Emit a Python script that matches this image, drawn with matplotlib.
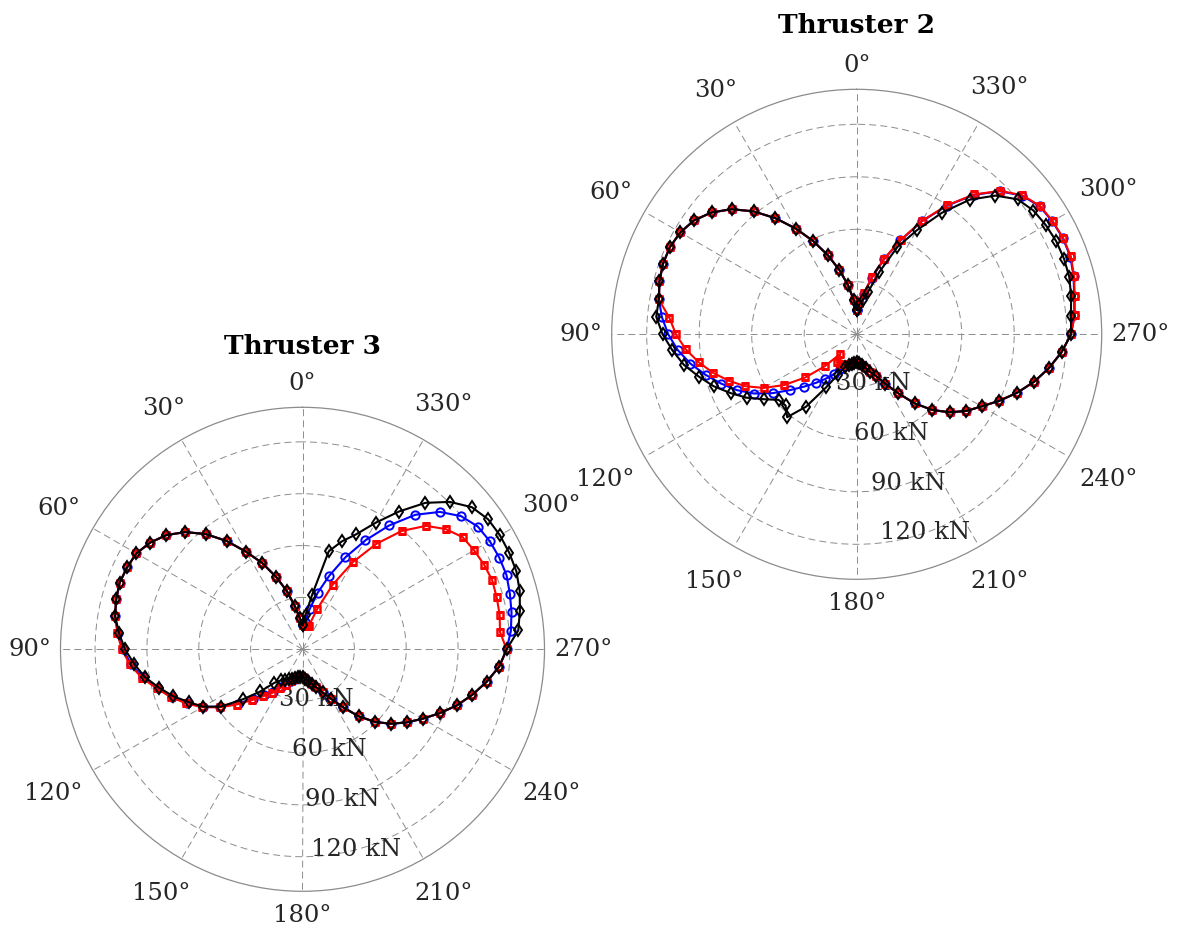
import numpy as np
import matplotlib
matplotlib.use("Agg")
import matplotlib.pyplot as plt

plt.rcParams["font.family"] = "DejaVu Serif"
plt.rcParams["lines.scale_dashes"] = False

# angles in degrees, 5 deg steps
angles = np.arange(0, 360, 5)
theta_ticks = np.arange(0, 360, 30)
rings = [30, 60, 90, 120]
r_max = 140

# ---- Thruster 3 (kN) ----
t3_common_0_80 = [14, 18.1, 25.3, 34.8, 44.5, 55, 65.1, 76.5, 87, 95.9, 102.8, 107.6,
                  111, 112, 112.6, 111.6, 110.1]
t3_black_85_175 = [106.5, 102.7, 97.7, 92.6, 85.9, 79.5, 72.4, 66.4, 57.8, 45, 34.5, 25.3,
                   22, 20.3, 19, 18, 17, 16.4, 16]
t3_blue_85_175 = [107.2, 104, 99.5, 93.8, 86.8, 80.4, 73.6, 66.6, 58, 49, 40.5, 34.5,
                  30, 25.3, 22, 19.3, 17.7, 16.7, 16.2]
t3_red_85_175 = [107.5, 104.6, 100.2, 94.5, 87.3, 81, 74.1, 67, 58.5, 49.7, 41.6, 35.5,
                 31, 26, 22.5, 19.5, 17.8, 16.8, 16.2]
t3_common_180_270 = [15.8, 17, 18.5, 20.5, 23.5, 27.5, 33, 41, 50.6, 59.5, 67, 73.7,
                     80.3, 87.5, 95, 101.7, 108.2, 114.3, 118.1]
t3_black_275_355 = [125.3, 127.7, 130.1, 131.7, 132, 131.9, 131.1, 127.9, 120.6, 110.6,
                    97.3, 84.5, 73.4, 66.4, 58.7, 32, 20]
t3_blue_275_355 = [121, 122.8, 124.2, 125.6, 125.6, 125.1, 123.8, 119.8, 112.4, 101.6,
                   87.5, 72.8, 58.7, 45.3, 33.8, 23.4, 16]
t3_red_275_355 = [114.7, 115.8, 116.3, 116.8, 115.9, 114.6, 113.1, 108.2, 101, 89.4,
                  74.5, 58.2, 41.1, 24.6, 13.9, 13.5, 13.8]

# ---- Thruster 2 (kN) ----
t2_common_0_80 = [14, 19.7, 28.6, 38, 48, 58.8, 69.8, 81, 91.7, 101.1, 108.3, 113.5,
                  116.4, 117.8, 117.8, 116.7, 114.8]
t2_black_85_175 = [115, 110.9, 105.7, 100.3, 93.4, 86.9, 79.5, 72.5, 64.7, 58.3, 57.5, 61.8,
                   50.5, 35.1, 25.5, 20, 18, 17, 16.3]
t2_blue_85_175 = [111.7, 107.7, 102.7, 96.5, 89.4, 82.4, 75.5, 67.7, 58.6, 49.6, 42.2, 36.2,
                  31.1, 26.3, 22, 19.5, 18, 17, 16.3]
t2_red_85_175 = [107.4, 103.3, 98.1, 91.7, 85, 77.7, 70.2, 61.3, 50.5, 38.4, 25.9, 14.5,
                 19.4, 19.3, 19, 18.8, 17.8, 17, 16.3]
t2_common_180_270 = [16, 16.5, 17.8, 20, 23, 26.5, 32.5, 41, 51.5, 61.2, 69.3, 76.4,
                     82.4, 89.9, 97.6, 104.9, 111.5, 117.5, 122.5]
t2_black_275_355 = [122.9, 124.4, 125.8, 126.1, 125.8, 124.8, 123.3, 120, 112.1, 100.4,
                    84.7, 68.6, 55, 38, 25, 20, 17]
t2_blue_275_355 = [124.8, 126.2, 128.3, 129.9, 130, 129.1, 127.6, 123.3, 115.6, 104,
                   89.6, 74.6, 59.2, 45.6, 33.6, 23.6, 17.8]
t2_red_275_355 = [125.1, 126.5, 128.6, 130.2, 130.2, 129.3, 127.9, 123.6, 115.9, 104.3,
                  90, 75, 59.6, 46, 34, 24, 18]


def build(a, b, c, d):
    return np.concatenate([a, b, c, d])


thr3 = {
    "blue": build(t3_common_0_80, t3_blue_85_175, t3_common_180_270, t3_blue_275_355),
    "red": build(t3_common_0_80, t3_red_85_175, t3_common_180_270, t3_red_275_355),
    "black": build(t3_common_0_80, t3_black_85_175, t3_common_180_270, t3_black_275_355),
}
thr2 = {
    "blue": build(t2_common_0_80, t2_blue_85_175, t2_common_180_270, t2_blue_275_355),
    "red": build(t2_common_0_80, t2_red_85_175, t2_common_180_270, t2_red_275_355),
    "black": build(t2_common_0_80, t2_black_85_175, t2_common_180_270, t2_black_275_355),
}

styles = {
    "blue": dict(color="#0000ff", marker="o", ms=6, mfc="none", mew=1.4),
    "red": dict(color="#ff0000", marker="s", ms=4.8, mfc="none", mew=1.8),
    "black": dict(color="#000000", marker="d", ms=6.5, mfc="none", mew=1.4),
}

text_color = "#262626"
grid_color = "#8c8c8c"
fs = 17.5

fig = plt.figure(figsize=(11.78, 9.33), dpi=100)
W, H = 1178, 933

# axes placed from pixel boxes (center, radius)
ax3 = fig.add_axes([(302.5 - 242) / W, (H - 649.3 - 242) / H, 484 / W, 484 / H],
                   projection="polar")
ax2 = fig.add_axes([(856.7 - 245) / W, (H - 334.3 - 245) / H, 490 / W, 490 / H],
                   projection="polar")


def setup(ax, data, title, title_y, rlab_deg):
    ax.set_theta_zero_location("N")
    ax.set_theta_direction(1)
    ax.set_ylim(0, r_max)
    ax.set_yticks(rings)
    ax.set_yticklabels([])
    ax.set_xticks(np.deg2rad(theta_ticks))
    ax.set_xticklabels([])
    ax.tick_params(length=0)
    ax.grid(True, color=grid_color, lw=0.7, ls=(0, (5, 3)))
    ax.spines["polar"].set_color(grid_color)
    ax.spines["polar"].set_linewidth(0.9)

    th = np.deg2rad(np.append(angles, 360))
    for name in ["blue", "red", "black"]:
        r = np.append(data[name], data[name][0])
        ax.plot(th, r, lw=1.5, **styles[name])

    for rv in rings:
        ax.text(np.deg2rad(rlab_deg), rv, f"{rv} kN", ha="center", va="center",
                fontsize=fs, color=text_color, zorder=1.6)

    ax.text(0.5, title_y, title, transform=ax.transAxes, ha="center",
            va="baseline", fontsize=19, fontweight="bold", color="black")


setup(ax3, thr3, "Thruster 3", 1.1095, 195)
setup(ax2, thr2, "Thruster 2", 1.1155, 199)

# theta labels placed just outside the outer circle
fig.canvas.draw()
renderer = fig.canvas.get_renderer()
for ax, R in [(ax3, 242), (ax2, 245)]:
    for a in theta_ticks:
        t = ax.text(0.5, 0.5, f"{a}°", transform=ax.transAxes, ha="center",
                    va="center", fontsize=fs, color=text_color)
        w = t.get_window_extent(renderer).width
        h = 18
        phi = np.deg2rad(a)
        s, c = abs(np.sin(phi)), abs(np.cos(phi))
        d = R + (9.5 + w / 2) * s + (15 + h / 2) * c
        x = 0.5 - d * np.sin(phi) / (2 * R)
        y = 0.5 + d * np.cos(phi) / (2 * R)
        t.set_position((x, y))

fig.savefig("out.png", dpi=100, facecolor="white")
